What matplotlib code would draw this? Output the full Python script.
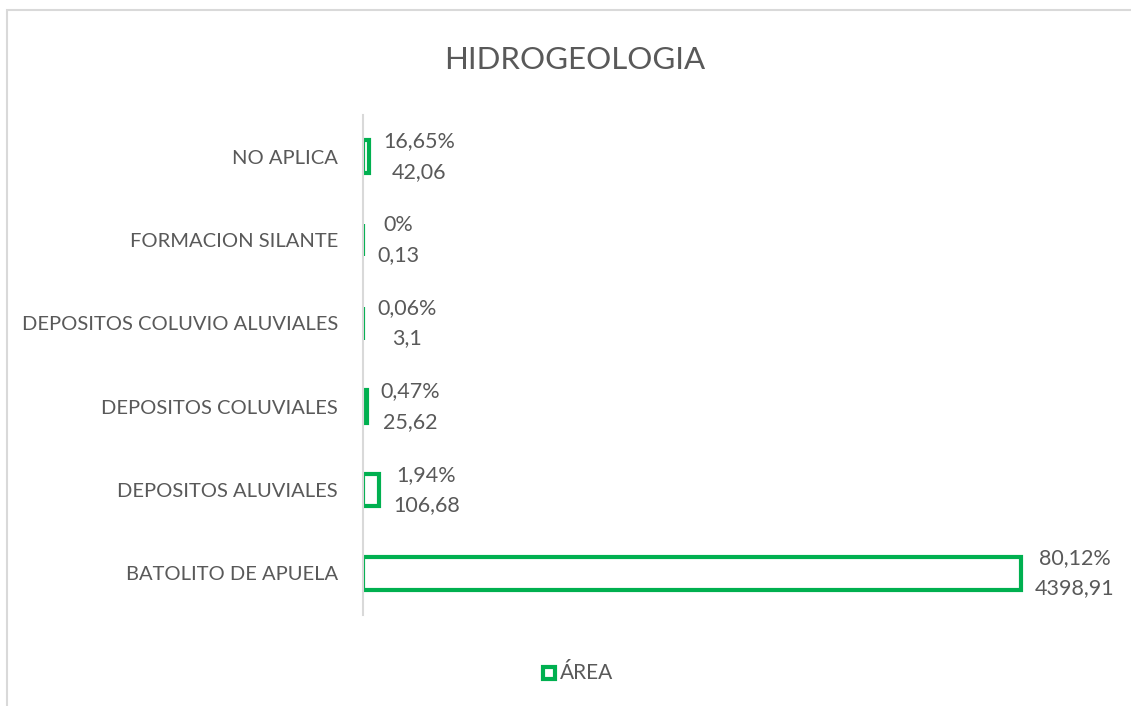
import matplotlib.pyplot as plt
from matplotlib.patches import Rectangle

# data (bottom to top)
categorias = ['BATOLITO DE APUELA', 'DEPOSITOS ALUVIALES', 'DEPOSITOS COLUVIALES',
              'DEPOSITOS COLUVIO ALUVIALES', 'FORMACION SILANTE', 'NO APLICA']
area = [4398.91, 106.68, 25.62, 3.1, 0.13, 42.06]
porcentaje = ['80,12%', '1,94%', '0,47%', '0,06%', '0%', '16,65%']
area_txt = ['4398,91', '106,68', '25,62', '3,1', '0,13', '42,06']

verde = '#00B050'
gris = '#595959'

plt.rcParams['font.family'] = ['Lato', 'DejaVu Sans']

fig = plt.figure(figsize=(11.31, 7.06), dpi=100)
ax = fig.add_axes([363 / 1131, 91 / 706, 748 / 1131, 500 / 706])

y = range(len(categorias))
ax.barh(y, area, height=0.39, color='white', edgecolor=verde, linewidth=3)

for i in y:
    ax.annotate(porcentaje[i] + '\n' + area_txt[i], xy=(area[i], i),
                xytext=(10, 0), textcoords='offset points',
                ha='left', va='center', multialignment='center',
                fontsize=15.5, color=gris, linespacing=1.65)

ax.set_xlim(0, 5000)
ax.set_ylim(-0.5, len(categorias) - 0.5)
ax.set_xticks([])
ax.set_yticks(list(y))
ax.set_yticklabels(categorias, fontsize=14.5, color=gris)
ax.tick_params(axis='y', length=0, pad=18)
for s in ['top', 'right', 'bottom']:
    ax.spines[s].set_visible(False)
ax.spines['left'].set_color('#D9D9D9')
ax.spines['left'].set_linewidth(1.5)

fig.text(575 / 1131, 1 - 60 / 706, 'HIDROGEOLOGIA', ha='center', va='center',
         fontsize=22.5, color=gris)

# legend
fig.patches.append(Rectangle((543 / 1131, 1 - 679 / 706), 12 / 1131, 12 / 706,
                             transform=fig.transFigure, facecolor='white',
                             edgecolor=verde, linewidth=3))
fig.text(560 / 1131, 1 - 673 / 706, 'ÁREA', ha='left', va='center',
         fontsize=15, color=gris)

# chart border
fig.patches.append(Rectangle((7 / 1131, -0.01), 1.1, 1 - 10 / 706 + 0.01,
                             transform=fig.transFigure, facecolor='none',
                             edgecolor='#D9D9D9', linewidth=1.5))

fig.savefig('out.png', dpi=100)
